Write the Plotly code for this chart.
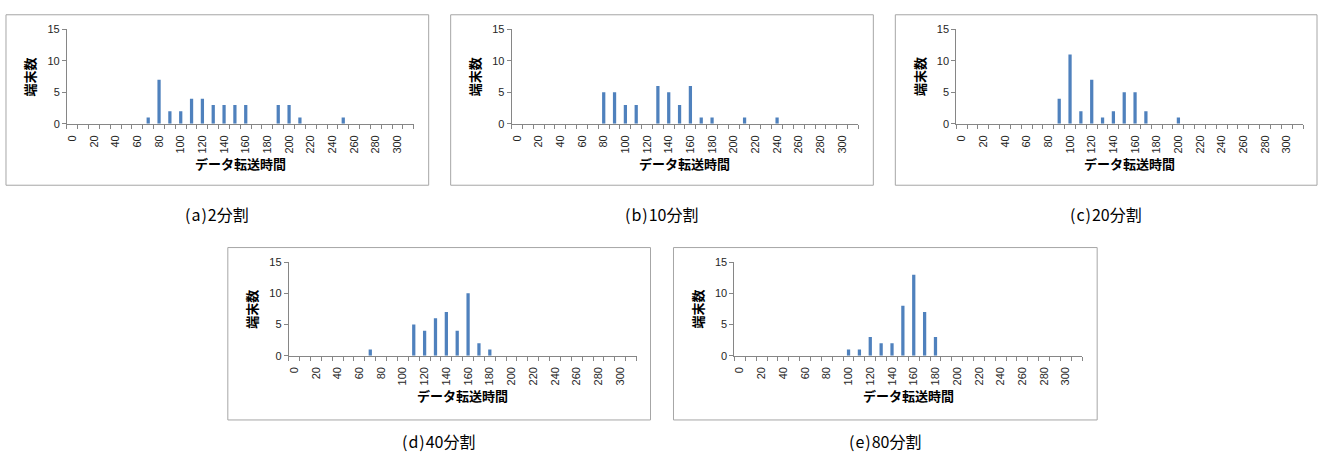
import plotly.graph_objects as go

W, H = 1320, 462

categories = [0, 10, 20, 30, 40, 50, 60, 70, 80, 90, 100, 110, 120, 130, 140, 150,
              160, 170, 180, 190, 200, 210, 220, 230, 240, 250, 260, 270, 280, 290, 300, 310]
tick_values = [0, 20, 40, 60, 80, 100, 120, 140, 160, 180, 200, 220, 240, 260, 280, 300]
tick_labels = [str(v) for v in tick_values]
y_ticks = [0, 5, 10, 15]

counts_a = [0, 0, 0, 0, 0, 0, 0, 1, 7, 2, 2, 4, 4, 3, 3, 3, 3, 0, 0, 3, 3, 1, 0, 0, 0, 1, 0, 0, 0, 0, 0, 0]
counts_b = [0, 0, 0, 0, 0, 0, 0, 0, 5, 5, 3, 3, 0, 6, 5, 3, 6, 1, 1, 0, 0, 1, 0, 0, 1, 0, 0, 0, 0, 0, 0, 0]
counts_c = [0, 0, 0, 0, 0, 0, 0, 0, 0, 4, 11, 2, 7, 1, 2, 5, 5, 2, 0, 0, 1, 0, 0, 0, 0, 0, 0, 0, 0, 0, 0, 0]
counts_d = [0, 0, 0, 0, 0, 0, 0, 1, 0, 0, 0, 5, 4, 6, 7, 4, 10, 2, 1, 0, 0, 0, 0, 0, 0, 0, 0, 0, 0, 0, 0, 0]
counts_e = [0, 0, 0, 0, 0, 0, 0, 0, 0, 0, 1, 1, 3, 2, 2, 8, 13, 7, 3, 0, 0, 0, 0, 0, 0, 0, 0, 0, 0, 0, 0, 0]

captions = ["(\u200aa\u200a)\u200a2分割", "(\u200ab\u200a)\u200a10分割", "(\u200ac\u200a)\u200a20分割",
            "(\u200ad\u200a)\u200a40分割", "(\u200ae\u200a)\u200a80分割"]
x_title = "データ転送時間"
y_title = "端末数"

series = [counts_a, counts_b, counts_c, counts_d, counts_e]

# pixel layout: (plot left, plot right, plot top, plot bottom, box l, box r, box t, box b, caption y)
panels = [
    (66, 413, 24, 121, 5, 428, 9, 184, 214),
    (511, 858, 24, 121, 450, 873, 9, 184, 214),
    (956, 1303, 24, 121, 895, 1317, 9, 184, 214),
    (288, 636, 263, 359, 227, 650, 248, 425, 447),
    (734, 1082, 263, 359, 673, 1097, 248, 425, 447),
]

def px(x):
    return x / W

def py(y):
    return 1 - y / H

fig = go.Figure()
axis_color = "#868686"
tick_font = dict(family="Liberation Sans, Arial, sans-serif", size=11, color="#262626")
jp_font = "Noto Sans CJK JP"

shapes = []
annotations = []
layout = {}
for i, (vals, p, cap) in enumerate(zip(series, panels, captions)):
    l, r, t, b, bl, br, bt, bb, cy = p
    n = "" if i == 0 else str(i + 1)
    fig.add_trace(go.Bar(x=categories, y=vals, xaxis="x" + n, yaxis="y" + n,
                         width=3, marker=dict(color="#4F81BD", line=dict(width=0)),
                         showlegend=False))
    layout["xaxis" + n] = dict(
        domain=[px(l), px(r)], anchor="y" + n, range=[-5, 315],
        tickmode="array", tickvals=tick_values, ticktext=tick_labels, tickangle=-90,
        ticks="outside", ticklen=6, tickcolor="rgba(0,0,0,0)",
        minor=dict(ticks="outside", ticklen=4, tickcolor=axis_color, tick0=-5, dtick=10, showgrid=False),
        showline=True, linecolor=axis_color, linewidth=1, showgrid=False, zeroline=False,
        tickfont=tick_font, fixedrange=True,
    )
    layout["yaxis" + n] = dict(
        domain=[py(b), py(t)], anchor="x" + n, range=[0, 15],
        tickmode="array", tickvals=y_ticks, ticks="outside", ticklen=4, tickcolor=axis_color,
        showline=True, linecolor=axis_color, linewidth=1, showgrid=False, zeroline=False,
        tickfont=tick_font, fixedrange=True,
    )
    shapes.append(dict(type="rect", xref="paper", yref="paper",
                       x0=px(bl), x1=px(br), y0=py(bb), y1=py(bt),
                       line=dict(color="#A6A6A6", width=1)))
    annotations.append(dict(text="<b>" + x_title + "</b>", xref="paper", yref="paper",
                            x=px((l + r) / 2), y=py(b + 41), showarrow=False,
                            xanchor="center", yanchor="middle",
                            font=dict(family=jp_font, size=13, color="#000000")))
    annotations.append(dict(text="<b>" + y_title + "</b>", xref="paper", yref="paper",
                            x=px(l - 37), y=py((t + b) / 2), showarrow=False, textangle=-90,
                            xanchor="center", yanchor="middle",
                            font=dict(family=jp_font, size=13, color="#000000")))
    annotations.append(dict(text=cap, xref="paper", yref="paper",
                            x=px((bl + br) / 2), y=py(cy), showarrow=False,
                            xanchor="center", yanchor="middle",
                            font=dict(family=jp_font, size=16, color="#000000")))

fig.update_layout(
    width=W, height=H, margin=dict(l=0, r=0, t=0, b=0),
    paper_bgcolor="white", plot_bgcolor="white",
    shapes=shapes, annotations=annotations, bargap=0.7,
    **layout,
)

fig.write_html("out.html")
